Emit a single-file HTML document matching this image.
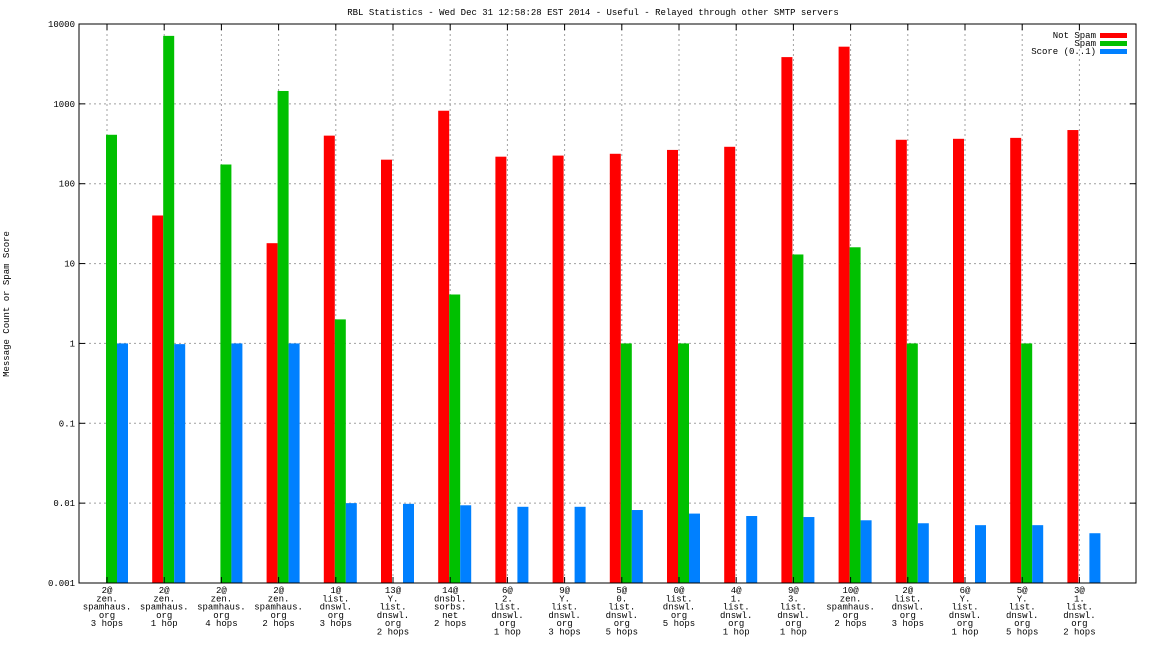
<!DOCTYPE html>
<html><head><meta charset="utf-8"><style>
body{margin:0;background:#fff;}
svg{display:block;font-family:"Liberation Mono","DejaVu Sans Mono",monospace;font-size:9px;}
</style></head><body>
<svg id="chart" width="1152" height="648" xmlns="http://www.w3.org/2000/svg">
<text x="593" y="15" text-anchor="middle">RBL Statistics - Wed Dec 31 12:58:28 EST 2014 - Useful - Relayed through other SMTP servers</text>
<text transform="translate(9,304) rotate(-90)" text-anchor="middle">Message Count or Spam Score</text>
<g id="grid"></g><g id="bars"></g><g id="axes"></g>
</svg>
<script>
const categories=[
["2@","zen.","spamhaus.","org","3 hops"],["2@","zen.","spamhaus.","org","1 hop"],["2@","zen.","spamhaus.","org","4 hops"],["2@","zen.","spamhaus.","org","2 hops"],
["1@","list.","dnswl.","org","3 hops"],["13@","Y.","list.","dnswl.","org","2 hops"],["14@","dnsbl.","sorbs.","net","2 hops"],["6@","2.","list.","dnswl.","org","1 hop"],
["9@","Y.","list.","dnswl.","org","3 hops"],["5@","0.","list.","dnswl.","org","5 hops"],["0@","list.","dnswl.","org","5 hops"],["4@","1.","list.","dnswl.","org","1 hop"],
["9@","3.","list.","dnswl.","org","1 hop"],["10@","zen.","spamhaus.","org","2 hops"],["2@","list.","dnswl.","org","3 hops"],["6@","Y.","list.","dnswl.","org","1 hop"],
["5@","Y.","list.","dnswl.","org","5 hops"],["3@","1.","list.","dnswl.","org","2 hops"]];
const notSpam=[0,40,0,18,400,200,820,218,225,237,265,290,3850,5200,355,365,375,470];
const spam=[410,7100,174,1450,2,0,4.1,0,0,1,1,0,13,16,1,0,1,0];
const score=[1,0.98,1,1,0.01,0.0098,0.0094,0.009,0.009,0.0082,0.0074,0.0069,0.0067,0.0061,0.0056,0.0053,0.0053,0.0042];
const yTicks=[0.001,0.01,0.1,1,10,100,1000,10000];
const yTickLabels=["0.001","0.01","0.1","1","10","100","1000","10000"];
const L=79,R=1136,T=24,B=583;
const NS="http://www.w3.org/2000/svg";
function y(v){return B-(Math.log10(v)+3)/7*(B-T);}
function xc(i){return 107+i*57.2;}
function mk(tag,attrs,parent){const e=document.createElementNS(NS,tag);for(const k in attrs)e.setAttribute(k,attrs[k]);parent.appendChild(e);return e;}
const grid=document.getElementById('grid'),bars=document.getElementById('bars'),axes=document.getElementById('axes');
yTicks.forEach((t,i)=>{const yy=y(t);
 if(i>0&&i<yTicks.length-1){const g=mk('line',{x1:L,x2:R,y1:yy,y2:yy,stroke:'#a0a0a0','stroke-dasharray':'2,3'},grid);
 
 }
 mk('line',{x1:L,x2:L+6,y1:yy,y2:yy,stroke:'#000'},axes);mk('line',{x1:R-6,x2:R,y1:yy,y2:yy,stroke:'#000'},axes);
 const tx=mk('text',{x:L-4,y:yy+3,'text-anchor':'end'},axes);tx.textContent=yTickLabels[i];
 
 
});
categories.forEach((c,i)=>{const cx=xc(i);
 const g=mk('line',{x1:cx,x2:cx,y1:T,y2:B,stroke:'#a0a0a0','stroke-dasharray':'2,3'},grid);
 
 
 mk('line',{x1:cx,x2:cx,y1:B,y2:B-6,stroke:'#000'},axes);mk('line',{x1:cx,x2:cx,y1:T,y2:T+6,stroke:'#000'},axes);
 const t=mk('text',{'text-anchor':'middle'},axes);
 
 
 c.forEach((ln,j)=>{const s=mk('tspan',{x:cx,y:593+j*8.3},t);s.textContent=ln;});
 [[notSpam,'#ff0000',-12,'bar-not-spam'],[spam,'#00c000',-1,'bar-spam'],[score,'#0080ff',10,'bar-score']].forEach(([arr,col,off,name])=>{
  const v=arr[i];if(!v)return;const yy=y(v);
  const r=mk('rect',{x:cx+off,y:yy,width:11,height:B-yy,fill:col},bars);
  
  
 });
});
const fr=mk('rect',{x:L,y:T,width:R-L,height:B-T,fill:'none',stroke:'#000'},axes);


[['Not Spam','#ff0000'],['Spam','#00c000'],['Score (0..1)','#0080ff']].forEach(([n,c],i)=>{
 const yy=35+i*8;
 const t=mk('text',{x:1096,y:yy+3,'text-anchor':'end'},axes);t.textContent=n;
 
 
 const r=mk('rect',{x:1100,y:yy-2,width:27,height:5,fill:c},axes);
 
 
});
</script>
</body></html>
